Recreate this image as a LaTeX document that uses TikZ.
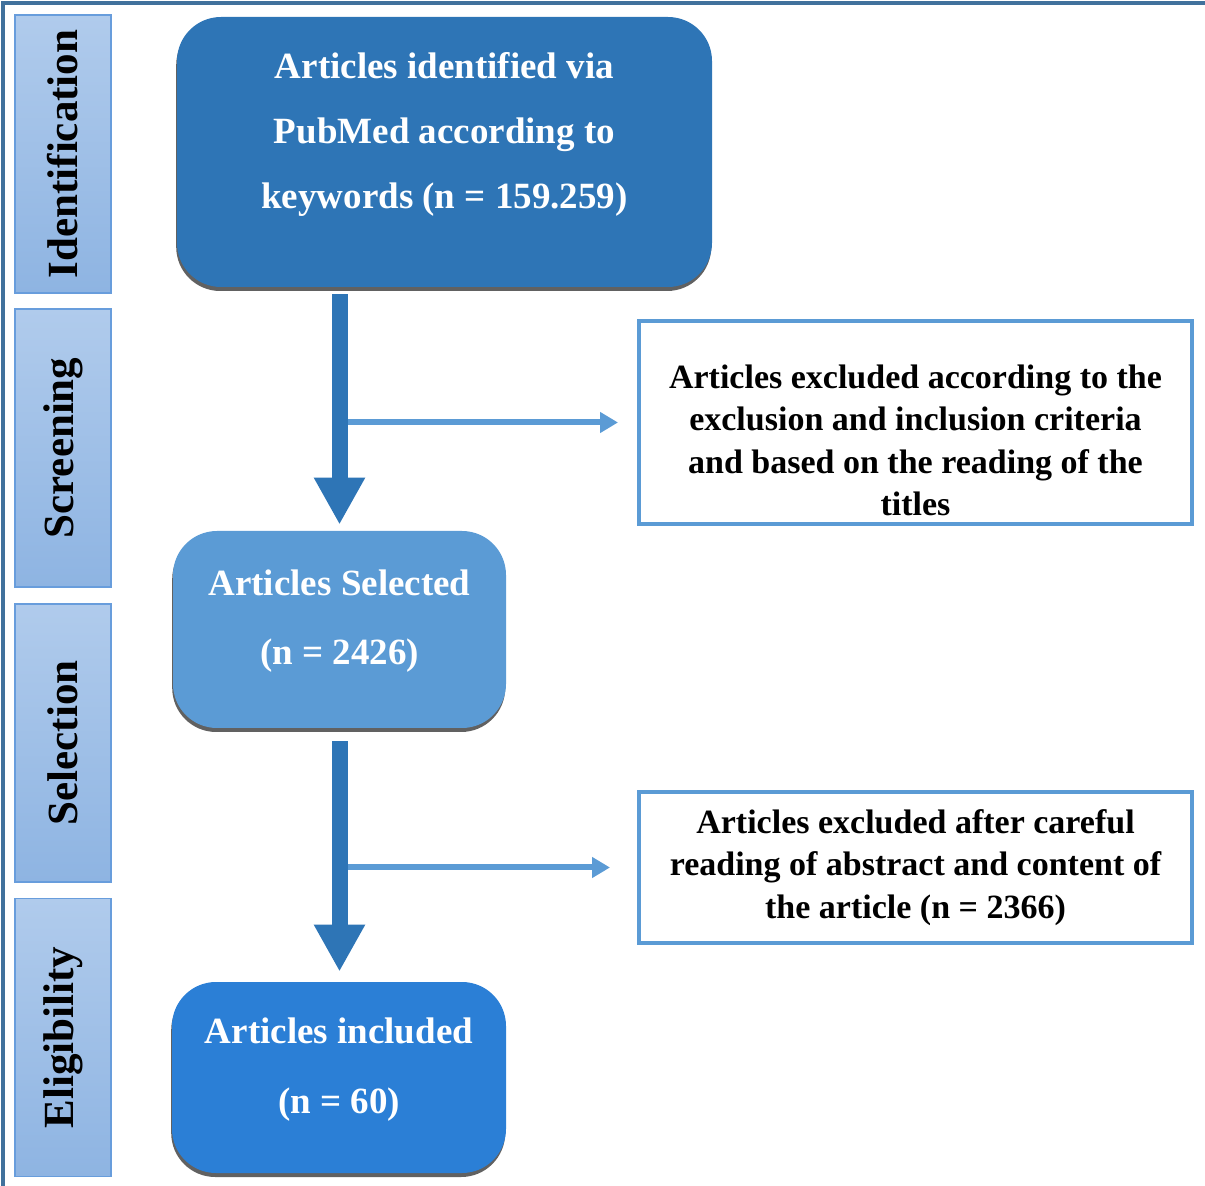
\documentclass[tikz,border=0pt]{standalone}
\usepackage{fontspec}
\setmainfont{Liberation Serif}
\usepackage{graphicx}
\usepackage{xcolor}
\usepackage{tikz}
\usetikzlibrary{arrows.meta, positioning, calc, shadows}
\definecolor{boxdark}{RGB}{46,117,182}
\definecolor{boxmid}{RGB}{91,155,213}
\definecolor{boxbright}{RGB}{43,127,214}
\definecolor{phasetop}{RGB}{176,203,236}
\definecolor{phasebot}{RGB}{142,180,226}
\definecolor{phaseline}{RGB}{104,157,220}
\definecolor{framecol}{RGB}{65,113,156}

\begin{document}
\begin{tikzpicture}[x=0.5pt, y=-0.5pt,
  phase/.style={rectangle, draw=phaseline, line width=0.8pt, top color=phasetop, bottom color=phasebot,
                minimum width=48pt, minimum height=139pt, inner sep=0pt,
                font=\fontsize{21.5}{24}\selectfont\bfseries},
  stage/.style={rectangle, rounded corners=22pt, draw=none, inner sep=0pt,
                drop shadow={shadow xshift=-0.4pt, shadow yshift=-2pt, fill=black!62, opacity=1}},
  stagetxt/.style={text=white, align=center, inner sep=0pt},
  excl/.style={rectangle, draw=boxmid, line width=2pt, fill=white, inner sep=0pt,
               minimum width=276.5pt, align=center, text=black,
               font=\fontsize{17}{21.25}\selectfont\bfseries},
  mainarr/.style={-{Triangle[length=23.5pt, width=24pt]}, line width=8pt, boxdark},
  sidearr/.style={-{Triangle[length=9pt, width=10pt]}, line width=3pt, boxmid},
]
  \useasboundingbox (0,0) rectangle (1205,1186);
  \draw[framecol, line width=2pt] (3,1186) -- (3,3) -- (1205,3);

  % phase labels on the left
  \node[phase] (pid) at (63,154)    {\rotatebox{90}{Identification}};
  \node[phase] (psc) at (63,448)    {\rotatebox{90}{Screening}};
  \node[phase] (pse) at (63,743)    {\rotatebox{90}{Selection}};
  \node[phase] (pel) at (63,1037.5) {\rotatebox{90}{Eligibility}};

  % main stages
  \node[stage, fill=boxdark, minimum width=267.5pt, minimum height=135pt] (ident) at (444.5,152) {};
  \node[stagetxt, font=\fontsize{18.5}{32.5}\selectfont\bfseries] (identtxt) at ([yshift=9pt]ident.center)
    {Articles identified via\\PubMed according to\\keywords (n = 159.259)};

  \node[stage, fill=boxmid, minimum width=166.5pt, minimum height=98.5pt] (selec) at (339.5,629.5) {};
  \node[stagetxt, font=\fontsize{18.5}{34.5}\selectfont\bfseries] (selectxt) at ([yshift=4pt]selec.center)
    {Articles Selected\\(n = 2426)};

  \node[stage, fill=boxbright, minimum width=167pt, minimum height=95.5pt] (incl) at (339,1077.5) {};
  \node[stagetxt, font=\fontsize{18.5}{35}\selectfont\bfseries] (incltxt) at ([yshift=4pt]incl.center)
    {Articles included\\(n = 60)};

  % exclusions
  \node[excl, minimum height=101.5pt] (excla) at (915.5,422.5) {};
  \node[align=center, inner sep=0pt, font=\fontsize{17}{21.25}\selectfont\bfseries] (exclatxt)
    at ([yshift=-9pt]excla.center)
    {Articles excluded according to the\\exclusion and inclusion criteria\\and based on the reading of the\\titles};
  \node[excl, minimum height=75.5pt] (exclb) at (915.5,867.5)
    {Articles excluded after careful\\reading of abstract and content of\\the article (n = 2366)};

  % connectors
  \draw[sidearr, shorten >=9.5pt] (excla.west -| selec.north) -- (excla.west);
  \draw[sidearr, shorten >=13.5pt] (exclb.west -| selec.north) -- (exclb.west);
  \draw[mainarr, shorten <=3.5pt, shorten >=3pt] (ident.south -| selec.north) -- (selec.north);
  \draw[mainarr, shorten <=6.5pt, shorten >=5pt] (selec.south) -- (incl.north -| selec.south);
\end{tikzpicture}
\end{document}
